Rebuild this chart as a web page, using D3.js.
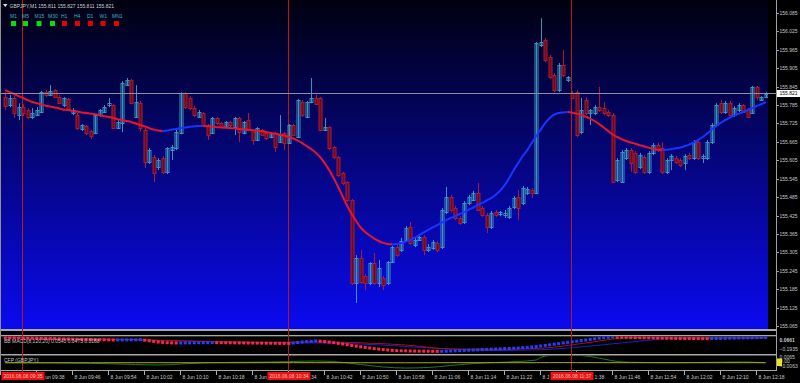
<!DOCTYPE html>
<html>
<head>
<meta charset="utf-8">
<script src="https://cdn.jsdelivr.net/npm/d3@7"></script>
<style>
  body { margin: 0; background: #000; }
  svg { display: block; }
  text { font-family: 'Liberation Sans', Arial, sans-serif; }
</style>
</head>
<body>
<svg id="chart" width="800" height="383"></svg>
<script>
// --- data (GBPJPY M1, 8 Jun 2016) ---
const symbol = 'GBPJPY,M1';
const lastQuote = [155.811, 155.827, 155.811, 155.821];
const timeframes = ['M1', 'M5', 'M15', 'M30', 'H1', 'H4', 'D1', 'W1', 'MN1'];
const timeframeUp = [true, true, true, true, false, false, false, false, false];
const firstBar = '09:31';

// open, high, low, close - one per minute
const candles = [
  [155.811,155.827,155.769,155.782],[155.785,155.818,155.778,155.808],[155.808,155.814,155.743,155.759],[155.752,155.791,155.736,155.778],[155.778,155.788,155.749,155.759],
  [155.769,155.775,155.739,155.746],[155.746,155.775,155.739,155.759],[155.752,155.778,155.749,155.769],[155.762,155.831,155.759,155.827],[155.827,155.834,155.811,155.818],
  [155.818,155.850,155.814,155.831],[155.834,155.837,155.808,155.811],[155.811,155.818,155.788,155.791],[155.785,155.811,155.778,155.808],[155.805,155.808,155.769,155.772],
  [155.759,155.775,155.752,155.769],[155.752,155.759,155.704,155.710],[155.707,155.723,155.700,155.720],[155.717,155.720,155.687,155.694],[155.700,155.704,155.674,155.684],
  [155.694,155.756,155.690,155.752],[155.752,155.772,155.746,155.769],[155.762,155.785,155.759,155.778],[155.785,155.808,155.778,155.791],[155.785,155.788,155.707,155.710],
  [155.710,155.736,155.707,155.730],[155.726,155.863,155.697,155.857],[155.850,155.873,155.847,155.866],[155.866,155.870,155.788,155.791],[155.746,155.850,155.743,155.795],
  [155.791,155.798,155.700,155.710],[155.704,155.710,155.580,155.599],[155.599,155.645,155.593,155.638],[155.616,155.622,155.534,155.563],[155.583,155.612,155.573,155.606],
  [155.612,155.619,155.560,155.567],[155.567,155.648,155.560,155.645],[155.638,155.655,155.606,155.648],[155.645,155.704,155.638,155.697],[155.694,155.827,155.690,155.824],
  [155.824,155.827,155.772,155.778],[155.808,155.814,155.769,155.775],[155.775,155.782,155.746,155.752],[155.746,155.769,155.743,155.762],[155.759,155.762,155.713,155.720],
  [155.720,155.723,155.671,155.687],[155.694,155.746,155.690,155.743],[155.743,155.746,155.720,155.726],[155.726,155.730,155.710,155.713],[155.713,155.733,155.710,155.730],
  [155.730,155.733,155.713,155.720],[155.713,155.746,155.687,155.743],[155.743,155.746,155.664,155.697],[155.694,155.733,155.690,155.730],[155.736,155.759,155.700,155.704],
  [155.704,155.707,155.655,155.671],[155.671,155.713,155.668,155.710],[155.704,155.707,155.684,155.687],[155.694,155.697,155.671,155.677],[155.681,155.697,155.677,155.694],
  [155.694,155.697,155.632,155.648],[155.664,155.752,155.661,155.687],[155.694,155.697,155.638,155.661],[155.661,155.723,155.658,155.720],[155.720,155.723,155.684,155.687],
  [155.681,155.805,155.677,155.801],[155.795,155.801,155.746,155.752],[155.746,155.798,155.743,155.795],[155.795,155.873,155.791,155.808],[155.808,155.818,155.785,155.788],
  [155.808,155.811,155.700,155.704],[155.704,155.743,155.700,155.713],[155.713,155.717,155.638,155.645],[155.648,155.651,155.609,155.616],[155.616,155.619,155.550,155.557],
  [155.563,155.567,155.524,155.531],[155.534,155.537,155.469,155.476],[155.476,155.479,155.198,155.205],[155.205,155.296,155.140,155.286],[155.286,155.313,155.202,155.208],
  [155.228,155.234,155.182,155.205],[155.205,155.273,155.198,155.270],[155.270,155.303,155.198,155.205],[155.205,155.280,155.192,155.254],[155.221,155.228,155.182,155.198],
  [155.205,155.277,155.198,155.273],[155.273,155.326,155.270,155.322],[155.322,155.335,155.290,155.296],[155.313,155.352,155.306,155.342],[155.345,155.391,155.339,155.384],
  [155.387,155.404,155.329,155.335],[155.329,155.352,155.322,155.345],[155.345,155.358,155.342,155.355],[155.355,155.361,155.296,155.313],[155.313,155.332,155.306,155.322],
  [155.319,155.345,155.313,155.339],[155.335,155.342,155.306,155.313],[155.322,155.449,155.316,155.443],[155.436,155.518,155.430,155.485],[155.485,155.492,155.436,155.443],
  [155.449,155.456,155.410,155.417],[155.417,155.423,155.394,155.400],[155.404,155.472,155.397,155.466],[155.466,155.492,155.459,155.485],[155.476,155.505,155.472,155.498],
  [155.498,155.531,155.440,155.443],[155.449,155.456,155.420,155.427],[155.427,155.433,155.368,155.387],[155.387,155.440,155.381,155.433],[155.436,155.443,155.420,155.427],
  [155.430,155.440,155.423,155.436],[155.427,155.443,155.417,155.433],[155.420,155.456,155.414,155.449],[155.453,155.488,155.446,155.482],[155.485,155.508,155.410,155.449],
  [155.466,155.521,155.459,155.514],[155.498,155.518,155.492,155.511],[155.508,155.514,155.482,155.498],[155.498,155.990,155.495,155.987],[155.980,156.068,155.974,155.990],
  [155.997,156.003,155.925,155.932],[155.941,155.948,155.870,155.876],[155.883,155.889,155.827,155.834],[155.834,155.922,155.827,155.915],[155.915,155.964,155.876,155.883],
  [155.866,155.879,155.860,155.876],[155.824,155.831,155.805,155.808],[155.827,155.834,155.681,155.687],[155.697,155.808,155.690,155.769],[155.801,155.811,155.752,155.759],
  [155.759,155.772,155.720,155.769],[155.759,155.785,155.752,155.778],[155.778,155.844,155.762,155.769],[155.775,155.795,155.752,155.759],[155.762,155.769,155.746,155.752],
  [155.752,155.759,155.531,155.534],[155.541,155.612,155.534,155.606],[155.534,155.638,155.531,155.632],[155.612,155.645,155.606,155.638],[155.638,155.645,155.567,155.596],
  [155.629,155.635,155.560,155.567],[155.583,155.629,155.576,155.622],[155.616,155.622,155.560,155.567],[155.567,155.635,155.560,155.629],[155.629,155.661,155.622,155.655],
  [155.655,155.661,155.632,155.638],[155.645,155.664,155.560,155.567],[155.567,155.612,155.560,155.606],[155.606,155.625,155.573,155.619],[155.612,155.619,155.593,155.599],
  [155.606,155.612,155.583,155.589],[155.596,155.625,155.573,155.619],[155.622,155.629,155.606,155.612],[155.612,155.671,155.606,155.664],[155.664,155.671,155.606,155.612],
  [155.612,155.625,155.596,155.619],[155.612,155.671,155.606,155.664],[155.664,155.726,155.658,155.720],[155.720,155.791,155.713,155.785],[155.791,155.801,155.756,155.762],
  [155.762,155.798,155.756,155.791],[155.791,155.798,155.746,155.752],[155.752,155.782,155.746,155.775],[155.769,155.791,155.762,155.785],[155.785,155.788,155.759,155.762],
  [155.769,155.775,155.743,155.746],[155.759,155.847,155.756,155.844],[155.844,155.847,155.801,155.811],[155.801,155.814,155.798,155.811],[155.811,155.827,155.811,155.821]
];

// moving average, one per bar
const maValues = [
  155.834,155.827,155.821,155.814,155.808,155.801,155.795,155.791,155.787,155.783,
  155.780,155.777,155.774,155.770,155.769,155.766,155.764,155.761,155.759,155.757,
  155.755,155.752,155.749,155.746,155.743,155.739,155.736,155.733,155.730,155.725,
  155.720,155.715,155.710,155.705,155.702,155.700,155.702,155.705,155.707,155.710,
  155.712,155.714,155.716,155.717,155.717,155.716,155.715,155.713,155.712,155.711,
  155.710,155.709,155.707,155.706,155.704,155.703,155.701,155.700,155.697,155.694,
  155.692,155.689,155.686,155.681,155.676,155.669,155.661,155.651,155.642,155.630,
  155.615,155.596,155.573,155.547,155.518,155.487,155.456,155.430,155.407,155.386,
  155.371,155.360,155.350,155.342,155.336,155.332,155.331,155.332,155.335,155.340,
  155.345,155.353,155.361,155.370,155.378,155.386,155.394,155.402,155.410,155.417,
  155.423,155.430,155.436,155.444,155.451,155.459,155.466,155.474,155.482,155.493,
  155.506,155.524,155.547,155.573,155.596,155.619,155.638,155.661,155.684,155.705,
  155.726,155.743,155.754,155.759,155.761,155.762,155.760,155.757,155.753,155.747,
  155.741,155.733,155.723,155.712,155.700,155.689,155.681,155.674,155.668,155.663,
  155.659,155.654,155.650,155.646,155.642,155.640,155.638,155.639,155.641,155.644,
  155.647,155.651,155.656,155.663,155.671,155.681,155.692,155.705,155.717,155.727,
  155.736,155.744,155.751,155.757,155.762,155.769,155.775,155.782,155.788,155.795
];

// BB MACD dots, one per bar
const macdValues = [
  0.138,0.135,0.132,0.130,0.127,0.124,0.121,0.118,0.112,0.109,
  0.106,0.104,0.101,0.098,0.095,0.092,0.089,0.086,0.083,0.081,
  0.078,0.075,0.072,0.069,0.066,0.068,0.069,0.070,0.072,0.073,
  0.075,0.060,0.043,0.026,0.008,-0.003,-0.012,-0.018,-0.020,-0.019,
  -0.018,-0.016,-0.015,-0.013,-0.012,-0.010,-0.009,-0.010,-0.012,-0.013,
  -0.015,-0.016,-0.018,-0.019,-0.020,-0.022,-0.023,-0.025,-0.026,-0.028,
  -0.029,-0.031,-0.032,-0.034,-0.020,-0.006,0.008,0.020,0.029,0.037,
  0.032,0.020,0.006,-0.012,-0.029,-0.049,-0.070,-0.090,-0.110,-0.130,
  -0.147,-0.165,-0.182,-0.196,-0.211,-0.222,-0.234,-0.240,-0.245,-0.248,
  -0.251,-0.254,-0.256,-0.257,-0.258,-0.260,-0.261,-0.260,-0.257,-0.251,
  -0.245,-0.240,-0.234,-0.228,-0.222,-0.217,-0.211,-0.205,-0.199,-0.194,
  -0.188,-0.182,-0.176,-0.170,-0.165,-0.156,-0.147,-0.139,-0.124,-0.107,
  -0.090,-0.072,-0.055,-0.038,-0.020,-0.003,0.014,0.032,0.049,0.066,
  0.083,0.101,0.118,0.132,0.144,0.153,0.150,0.147,0.144,0.141,
  0.138,0.135,0.132,0.130,0.127,0.124,0.121,0.118,0.115,0.114,
  0.112,0.111,0.109,0.108,0.106,0.105,0.104,0.106,0.109,0.112,
  0.115,0.118,0.121,0.124,0.127,0.130,0.132,0.135,0.138,0.141
];
// thin MACD lines, sampled at these bar numbers (1 = first bar)
const lineBars = [1, 10, 20, 30, 40, 50, 60, 70, 80, 90, 100, 110, 120, 130, 140, 150, 160, 170];
const macdSignal = [0.130,0.112,0.095,0.078,0.043,0.014,-0.003,0.014,-0.015,-0.078,-0.194,-0.202,-0.173,-0.020,0.135,0.130,0.118,0.124];
const macdMain = [0.135,0.118,0.095,0.072,0.037,0.008,-0.015,-0.020,-0.049,-0.121,-0.194,-0.237,-0.214,-0.121,0.008,0.115,0.130,0.135];

// CFP pane
const cfpBars = [1, 10, 20, 30, 35, 40, 45, 50, 60, 65, 70, 75, 80, 85, 90, 95, 100, 105, 110, 115, 119, 120, 122, 125, 128, 131, 134, 137, 140, 150, 160, 165, 170];
const cfpGreen = [-0.0023,-0.0026,-0.0032,-0.0049,-0.0056,-0.0042,-0.0025,-0.0020,-0.0013,-0.0006,0.0001,-0.0013,-0.0049,-0.0084,-0.0099,-0.0091,-0.0063,-0.0035,-0.0020,-0.0006,0.0015,0.0051,0.0079,0.0086,0.0083,0.0065,0.0029,-0.0006,-0.0017,-0.0023,-0.0016,-0.0013,-0.0023];
const cfpYellow = [-0.0024,-0.0024,-0.0024,-0.0023,-0.0023,-0.0023,-0.0024,-0.0024,-0.0023,-0.0023,-0.0023,-0.0023,-0.0024,-0.0024,-0.0024,-0.0024,-0.0023,-0.0023,-0.0023,-0.0023,-0.0023,-0.0022,-0.0022,-0.0022,-0.0022,-0.0022,-0.0023,-0.0023,-0.0023,-0.0023,-0.0023,-0.0023,-0.0023];

const priceTicks = [156.085, 156.025, 155.965, 155.905, 155.845, 155.785, 155.725, 155.665, 155.605, 155.545,
  155.485, 155.425, 155.365, 155.305, 155.245, 155.185, 155.125, 155.065];
const timeTicks = ['09:30', '09:38', '09:46', '09:54', '10:02', '10:10', '10:18', '10:26', '10:34', '10:42', '10:50',
  '10:58', '11:06', '11:14', '11:22', '11:30', '11:38', '11:46', '11:54', '12:02', '12:10', '12:18'];
const markers = ['09:35', '10:34', '11:37'];

// --- helpers ---
const at = s => { const p = s.split(':').map(Number); return new Date(2016, 5, 8, p[0], p[1]); };
const t0 = at(firstBar);
const barTime = i => d3.timeMinute.offset(t0, i);
const fmt = d3.format('.4f');

const svg = d3.select('#chart');
const plotRight = 768, axisX = 776.5;

const x = d3.scaleTime().domain([at('09:30'), at('12:20')]).range([0.7, 765.7]);
const y = d3.scaleLinear().domain([155.065, 156.085]).range([326, 13]);
const yMacd = d3.scaleLinear().domain([-0.1935, 0.0661]).range([349, 340]);
const yCfp = d3.scaleLinear().domain([-0.0063, 0.0065]).range([365.5, 356.5]);

const defs = svg.append('defs');
const grad = defs.append('linearGradient').attr('id', 'bg').attr('x1', 0).attr('y1', 0).attr('x2', 0).attr('y2', 1);
grad.append('stop').attr('offset', '0%').attr('stop-color', '#000010');
grad.append('stop').attr('offset', '100%').attr('stop-color', '#0a0af0');
defs.append('clipPath').attr('id', 'mainClip').append('rect').attr('x', 1).attr('y', 0).attr('width', plotRight - 1).attr('height', 329);
defs.append('clipPath').attr('id', 'macdClip').append('rect').attr('x', 1).attr('y', 336.5).attr('width', plotRight - 1).attr('height', 17.5);
defs.append('clipPath').attr('id', 'cfpClip').append('rect').attr('x', 1).attr('y', 355.5).attr('width', plotRight - 1).attr('height', 14.5);

svg.append('rect').attr('width', 800).attr('height', 383).attr('fill', '#000');
svg.append('rect').attr('x', 1).attr('y', 0).attr('width', plotRight - 1).attr('height', 329).attr('fill', 'url(#bg)');

// pane borders
[[329, 2], [335, 1.3], [354, 1.5], [370, 1]].forEach(b => {
  svg.append('rect').attr('x', 0).attr('y', b[0]).attr('width', axisX).attr('height', b[1]).attr('fill', '#a8a8a8');
});
svg.append('line').attr('x1', 0.5).attr('x2', 0.5).attr('y1', 0).attr('y2', 371).attr('stroke', '#909090');
svg.append('line').attr('x1', axisX).attr('x2', axisX).attr('y1', 0).attr('y2', 371).attr('stroke', '#a0a0a0');

// vertical marker lines
markers.forEach(m => {
  const xm = Math.round(x(at(m))) - 0.5;
  svg.append('line').attr('x1', xm).attr('x2', xm).attr('y1', 0).attr('y2', 372)
    .attr('stroke', '#b81818').attr('stroke-width', 1);
});

// --- candles ---
const bars = candles.map((d, i) => ({ t: barTime(i), o: d[0], h: d[1], l: d[2], c: d[3] }));
const main = svg.append('g').attr('clip-path', 'url(#mainClip)');
const cg = main.selectAll('g.candle').data(bars).join('g').attr('class', 'candle');
const bullCol = '#3894bc', bearCol = '#b0182e';
cg.append('line')
  .attr('x1', d => Math.round(x(d.t)) + 0.5)
  .attr('x2', d => Math.round(x(d.t)) + 0.5)
  .attr('y1', d => y(d.h))
  .attr('y2', d => y(d.l))
  .attr('stroke', d => d.c >= d.o ? bullCol : bearCol);
cg.append('rect')
  .attr('x', d => Math.round(x(d.t)) - 1)
  .attr('width', 3)
  .attr('y', d => Math.round(y(Math.max(d.o, d.c))) + 0.5)
  .attr('height', d => Math.max(Math.round(Math.abs(y(d.o) - y(d.c))), 1))
  .attr('fill', d => d.c >= d.o ? 'none' : '#680c1c')
  .attr('stroke', d => d.c >= d.o ? bullCol : bearCol);

// --- moving average, red when falling, blue when rising ---
const maPts = maValues.map((v, i) => ({ t: barTime(i), v: v }));
const runs = [];
for (let i = 1; i < maPts.length; i++) {
  const up = maPts[i].v > maPts[i - 1].v || (maPts[i].v === maPts[i - 1].v && runs.length && runs[runs.length - 1].up);
  if (!runs.length || runs[runs.length - 1].up !== up) runs.push({ up: up, pts: [maPts[i - 1]] });
  runs[runs.length - 1].pts.push(maPts[i]);
}
const maLine = d3.line().x(d => x(d.t)).y(d => y(d.v)).curve(d3.curveMonotoneX);
runs.forEach(r => {
  main.append('path').attr('d', maLine(r.pts)).attr('fill', 'none')
    .attr('stroke', r.up ? '#1a34ff' : '#e8142c').attr('stroke-width', 2);
});

// bid line
const yBid = Math.round(y(lastQuote[3])) - 0.5;
svg.append('line').attr('x1', 1).attr('x2', axisX).attr('y1', yBid).attr('y2', yBid)
  .attr('stroke', '#8c8c9c').attr('stroke-width', 1);

// --- price axis ---
const axisText = '#c8c8c8';
priceTicks.forEach(p => {
  const yy = Math.round(y(p)) + 0.5;
  svg.append('line').attr('x1', axisX).attr('x2', axisX + 2.5).attr('y1', yy).attr('y2', yy).attr('stroke', '#a0a0a0');
  svg.append('text').attr('x', 779.5).attr('y', yy + 1.8).attr('font-size', 5).attr('fill', axisText).text(p.toFixed(3));
});
svg.append('rect').attr('x', 777).attr('y', yBid - 3.5).attr('width', 23).attr('height', 7).attr('fill', '#fff');
svg.append('text').attr('x', 779.5).attr('y', yBid + 1.8).attr('font-size', 5).attr('fill', '#000').text(lastQuote[3].toFixed(3));

// --- header ---
svg.append('path').attr('d', 'M3,4 L7.5,4 L5.25,7 Z').attr('fill', '#e0e0e0');
svg.append('text').attr('x', 9.5).attr('y', 7.5).attr('font-size', 5).attr('fill', '#d0d0d0')
  .text(symbol + '  ' + lastQuote.map(v => v.toFixed(3)).join(' '));
const tfX = [10, 22, 34.5, 48, 61, 74, 87, 99.5, 112];
timeframes.forEach((tf, i) => {
  svg.append('text').attr('x', tfX[i]).attr('y', 18).attr('font-size', 5).attr('fill', '#3cb6c8').text(tf);
  const w = tf.length > 2 ? 9 : 7;
  svg.append('rect').attr('x', tfX[i] + w / 2 - 2.5).attr('y', 21).attr('width', 5).attr('height', 5)
    .attr('fill', timeframeUp[i] ? '#00e010' : '#e80000');
});

// --- MACD pane ---
const macdG = svg.append('g').attr('clip-path', 'url(#macdClip)');
const linePts = vals => vals.map((v, i) => ({ t: barTime(lineBars[i] - 1), v: v }));
const mLine = d3.line().x(d => x(d.t)).y(d => yMacd(d.v)).curve(d3.curveMonotoneX);
macdG.append('path').attr('d', mLine(linePts(macdMain))).attr('fill', 'none').attr('stroke', '#1a22c8').attr('stroke-width', 1);
macdG.append('path').attr('d', mLine(linePts(macdSignal))).attr('fill', 'none').attr('stroke', '#a81018').attr('stroke-width', 1);
let prevUp = false;
const dots = macdValues.map((v, i) => {
  if (i > 0 && v !== macdValues[i - 1]) prevUp = v > macdValues[i - 1];
  return { t: barTime(i), v: v, up: prevUp };
});
macdG.selectAll('rect.dot').data(dots).join('rect').attr('class', 'dot')
  .attr('x', d => x(d.t) - 1.5).attr('y', d => yMacd(d.v) - 1.5)
  .attr('width', 3).attr('height', 3)
  .attr('fill', d => d.up ? '#2a3cff' : '#ff2448');
svg.append('text').attr('x', 4).attr('y', 343).attr('font-size', 5).attr('fill', axisText)
  .text('BB MACD(8,120,20) 0.0543 0.0473 0.0168');
svg.append('text').attr('x', 779.5).attr('y', 341.8).attr('font-size', 5).attr('fill', axisText).attr('font-weight', 'bold').text(fmt(0.0661));
svg.append('text').attr('x', 779.5).attr('y', 350.8).attr('font-size', 5).attr('fill', axisText).text(fmt(-0.1935));

// --- CFP pane ---
const cfpG = svg.append('g').attr('clip-path', 'url(#cfpClip)');
const cLine = d3.line().x(d => x(d.t)).y(d => yCfp(d.v)).curve(d3.curveMonotoneX);
const cfpPts = vals => vals.map((v, i) => ({ t: barTime(cfpBars[i] - 1), v: v }));
cfpG.append('path').attr('d', cLine(cfpPts(cfpGreen))).attr('fill', 'none').attr('stroke', '#1f7a1f').attr('stroke-width', 1);
cfpG.append('path').attr('d', cLine(cfpPts(cfpYellow))).attr('fill', 'none').attr('stroke', '#a8a818').attr('stroke-width', 1);
svg.append('text').attr('x', 4).attr('y', 361.5).attr('font-size', 5).attr('fill', axisText).text('CFP (GBPJPY)');
svg.append('rect').attr('x', 777).attr('y', 358.5).attr('width', 5).attr('height', 7.5).attr('fill', '#e8e800');
svg.append('text').attr('x', 779.5).attr('y', 358.6).attr('font-size', 5).attr('fill', axisText).text(fmt(0.0065));
svg.append('text').attr('x', 780).attr('y', 363.2).attr('font-size', 5).attr('fill', axisText).text('0.00');
svg.append('text').attr('x', 779.5).attr('y', 367.8).attr('font-size', 5).attr('fill', axisText).text(fmt(-0.0063));

// --- time axis ---
// marker boxes sit on top of the time labels, so only the part of a label
// that shows beside a box is written out
const boxes = markers.map(m => { const c = Math.round(x(at(m))); return [c - 21.5, c + 21.5]; });
timeTicks.forEach(s => {
  const xt = Math.round(x(at(s))) - 0.5;
  svg.append('line').attr('x1', xt).attr('x2', xt).attr('y1', 371).attr('y2', 375).attr('stroke', '#b0b0b0');
  const label = '8 Jun ' + s;
  const txt = svg.append('text').attr('x', xt + 2).attr('y', 378.5).attr('font-size', 5).attr('fill', axisText).text(label);
  const node = txt.node();
  const x0 = xt + 2, x1 = x0 + node.getComputedTextLength();
  const box = boxes.find(b => x1 > b[0] && x0 < b[1]);
  if (!box) return;
  let keepFrom = -1, keepTo = -1;
  for (let k = 0; k < label.length; k++) {
    const cs = x0 + node.getSubStringLength(0, k);
    const ce = cs + node.getSubStringLength(k, 1);
    if (ce <= box[0] + 0.3 && keepFrom === -1) keepTo = k + 1;
    if (cs >= box[1] - 0.3 && keepFrom === -1) keepFrom = k;
  }
  if (keepFrom >= 0) {
    txt.attr('x', x0 + node.getSubStringLength(0, keepFrom)).text(label.slice(keepFrom));
  } else if (keepTo > 0) {
    txt.text(label.slice(0, keepTo).trim());
  } else {
    txt.remove();
  }
});
markers.forEach(m => {
  const xm = Math.round(x(at(m)));
  svg.append('rect').attr('x', xm - 21.5).attr('y', 372).attr('width', 43).attr('height', 8).attr('fill', '#f01010');
  svg.append('text').attr('x', xm).attr('y', 378.3).attr('text-anchor', 'middle').attr('font-size', 5)
    .attr('fill', '#ffc4c4').text('2016.06.08 ' + m);
});
</script>
</body>
</html>
